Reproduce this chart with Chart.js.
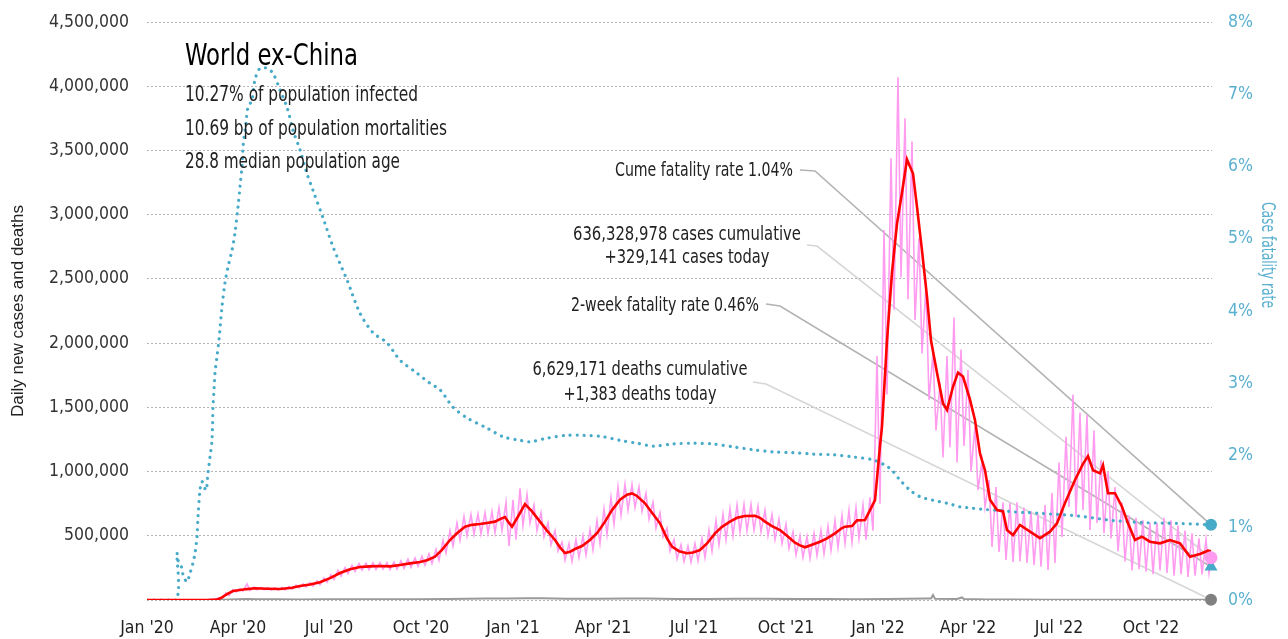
<!DOCTYPE html>
<html><head><meta charset="utf-8">
<script src="https://cdn.jsdelivr.net/npm/chart.js@4.4.1/dist/chart.umd.min.js"></script>
<style>html,body{margin:0;padding:0;background:#fff}#wrap{width:1288px;height:639px;position:relative}</style>
</head><body><div id="wrap"><canvas id="c" width="1288" height="639"></canvas></div>
<script>
// ---------- DATA ----------
const tickDays = [0, 91, 182, 274, 366, 456, 547, 639, 731, 821, 912, 1004];
const tickLabels = ["Jan '20","Apr '20","Jul '20","Oct '20","Jan '21","Apr '21","Jul '21","Oct '21","Jan '22","Apr '22","Jul '22","Oct '22"];
const leftTicks = [0,500000,1000000,1500000,2000000,2500000,3000000,3500000,4000000,4500000];
const rightTicks = [0,1,2,3,4,5,6,7,8];

// 7-day average of daily new cases (day index from 1 Jan 2020)
const avgDays = [0,60,70,75,80,86,93,100,108,120,133,145,153,163,173,183,193,203,213,223,233,243,253,263,273,280,288,295,303,310,318,325,333,340,348,353,358,362,365,371,378,385,393,400,408,413,418,423,428,435,443,450,458,465,473,480,485,490,498,505,513,520,525,532,540,546,553,560,568,575,583,590,598,608,613,618,625,633,640,648,653,658,665,673,680,688,695,698,705,710,718,723,728,733,735,740,745,750,755,760,766,770,775,780,784,790,796,800,806,811,816,823,828,833,838,843,850,856,860,866,873,883,893,903,910,918,928,936,941,946,953,956,961,968,975,981,988,995,1003,1013,1023,1033,1043,1053,1061,1064];
const avgCases = [0,0,3000,20000,45000,70000,78000,85000,91000,88000,86000,95000,109000,120000,138000,170000,210000,240000,257000,262000,265000,262000,272000,285000,296000,310000,337000,390000,467000,520000,571000,585000,592000,600000,610000,630000,646000,600000,571000,650000,747000,690000,610000,540000,467000,410000,366000,375000,397000,420000,467000,520000,610000,700000,780000,820000,830000,810000,753000,680000,597000,480000,415000,380000,364000,370000,389000,440000,519000,570000,610000,640000,654000,656000,640000,610000,575000,545000,500000,446000,425000,410000,430000,454000,480000,519000,560000,571000,576000,620000,623000,700000,778000,1200000,1350000,2020000,2550000,2930000,3170000,3430000,3320000,3060000,2720000,2360000,2020000,1770000,1530000,1480000,1660000,1770000,1740000,1560000,1400000,1140000,1010000,780000,700000,690000,545000,506000,584000,532000,482000,532000,597000,755000,934000,1060000,1120000,1010000,986000,1050000,831000,831000,726000,597000,467000,493000,454000,441000,467000,441000,337000,358000,384000,380000];

// Daily new cases: weekly high and low (week 0 starts 1 Jan 2020)
const dailyWeekHigh = [0,0,0,0,0,0,0,500,1500,4000,18000,55000,80000,88000,125000,100000,98000,96000,96000,98000,104000,116000,126000,135000,150000,172000,198000,230000,252000,270000,283000,287000,290000,292000,290000,295000,305000,318000,328000,340000,360000,395000,465000,540000,600000,650000,665000,670000,680000,690000,720000,760000,780000,870000,820000,740000,680000,600000,540000,450000,440000,470000,500000,550000,620000,710000,800000,880000,900000,900000,880000,830000,760000,680000,560000,470000,430000,420000,440000,480000,545000,620000,670000,710000,740000,745000,745000,730000,700000,665000,630000,590000,530000,500000,495000,520000,545000,575000,620000,660000,700000,720000,740000,800000,1900000,2880000,3440000,4070000,3750000,3570000,2820000,2450000,1920000,1690000,1900000,2200000,1950000,1790000,1350000,1080000,934000,880000,760000,755000,760000,720000,690000,670000,740000,833000,1070000,1270000,1600000,1460000,1440000,1320000,1090000,1000000,880000,760000,660000,640000,620000,600000,600000,640000,620000,580000,540000,520000,480000,470000];
const dailyWeekLow = [0,0,0,0,0,0,0,200,800,2500,8000,35000,62000,70000,75000,80000,80000,78000,78000,78000,84000,94000,100000,108000,118000,138000,160000,185000,205000,222000,232000,236000,238000,240000,236000,240000,246000,255000,262000,270000,285000,310000,365000,420000,465000,500000,510000,515000,520000,525000,540000,420000,470000,580000,600000,540000,490000,430000,380000,310000,300000,330000,350000,390000,440000,510000,590000,660000,700000,720000,690000,630000,560000,490000,380000,320000,300000,295000,305000,330000,380000,430000,470000,500000,530000,540000,545000,530000,500000,470000,440000,400000,350000,330000,325000,345000,360000,385000,410000,440000,450000,480000,470000,540000,750000,1600000,2260000,2510000,2340000,2180000,1920000,1560000,1320000,1110000,1190000,1070000,1200000,1000000,856000,724000,413000,374000,311000,296000,300000,288000,272000,260000,234000,288000,490000,724000,646000,700000,545000,600000,520000,480000,380000,300000,230000,240000,220000,200000,230000,210000,190000,200000,180000,190000,200000,210000];

// Daily deaths
const deathDays = [0,60,75,90,100,110,130,150,180,210,240,270,300,320,340,360,380,395,420,450,480,500,530,560,590,620,650,680,710,740,760,780,784,786,788,810,815,817,840,870,900,930,960,990,1020,1064];
const deathValues = [0,100,2000,6000,7000,6500,5000,4500,5000,6000,5500,5500,7500,10000,11500,12000,14000,13500,10000,9500,12500,12000,8500,8000,10000,9000,7000,7000,6500,7500,10000,11000,11000,38000,10500,8000,20000,7500,4500,3000,2500,2800,2400,1800,1500,1383];

// Cumulative case fatality rate, %
const cfrDays = [0,29,30,31,35,36,40,43,46,48,50,51,53,55,59,61,63,65,66,67,68,70,72,75,78,81,85,88,91,93,95,96,99,101,105,108,113,120,126,133,140,146,153,160,166,176,186,200,213,226,240,253,270,283,293,306,320,340,356,373,383,400,420,436,456,473,490,506,526,546,566,586,606,626,646,666,686,706,726,740,746,753,763,773,786,800,813,826,840,853,866,880,893,933,966,1000,1033,1064];
const cfrValues = [0,0,0.65,0.55,0.44,0.35,0.25,0.37,0.51,0.65,0.87,1.15,1.52,1.64,1.52,1.76,1.98,2.21,2.67,2.91,3.14,3.37,3.6,4.06,4.39,4.61,4.84,5.08,5.44,5.72,6.0,6.27,6.6,6.82,6.92,7.2,7.36,7.36,7.29,7.06,6.82,6.5,6.23,5.9,5.67,5.29,4.89,4.43,3.97,3.7,3.56,3.32,3.14,3.0,2.91,2.67,2.52,2.38,2.26,2.21,2.19,2.24,2.28,2.28,2.26,2.21,2.17,2.13,2.16,2.17,2.16,2.12,2.08,2.05,2.04,2.02,2.01,1.98,1.94,1.85,1.78,1.66,1.52,1.43,1.38,1.34,1.29,1.27,1.25,1.24,1.22,1.21,1.2,1.16,1.1,1.07,1.06,1.04];

const lastDay = 1064;
const cumeFatalityRate = 1.04;
const twoWeekFatalityRate = 0.46;
const casesToday = 329141;
const deathsToday = 1383;
const casesCumulative = "636,328,978";
const deathsCumulative = "6,629,171";

// ---------- FONT PICK ----------
function pickFont(cands){
  const c=document.createElement('canvas').getContext('2d');
  const t='World ex-China 4,500,000';
  c.font='40px monospace'; const b1=c.measureText(t).width;
  c.font='40px serif'; const b2=c.measureText(t).width;
  for(const f of cands){
    c.font='40px "'+f+'", monospace'; const w1=c.measureText(t).width;
    c.font='40px "'+f+'", serif'; const w2=c.measureText(t).width;
    if(Math.abs(w1-b1)>0.5 || Math.abs(w2-b2)>0.5) return f;
  }
  return 'sans-serif';
}
const COND = pickFont(['Liberation Sans Narrow','DejaVu Sans Condensed','Roboto Condensed','Open Sans Condensed','Roboto']);
const PLAIN = pickFont(['Liberation Sans','Arial','DejaVu Sans']);

// ---------- BUILD POINTS ----------
const pts = (xs, ys) => xs.map((x,i)=>({x, y: ys[i]}));
const dailyPts = [];
dailyWeekHigh.forEach((h,w)=>{ dailyPts.push({x:w*7+2, y:h}); dailyPts.push({x:w*7+5, y:dailyWeekLow[w]}); });
dailyPts.push({x:lastDay, y:casesToday});

const TEAL = '#47aac8';
const teal2 = '#5ab0cf';

function drawSqueezed(ctx, str, x, y, size, family, align, color, targetW){
  ctx.save();
  ctx.font = size+'px "'+family+'"';
  const w = ctx.measureText(str).width;
  const sx = targetW ? targetW/w : 1;
  ctx.fillStyle = color; ctx.textBaseline = 'middle'; ctx.textAlign = 'left';
  let left = x;
  const ww = w*sx;
  if(align==='right') left = x - ww; else if(align==='center') left = x - ww/2;
  ctx.translate(left, y); ctx.scale(sx,1);
  ctx.fillText(str, 0, 0);
  ctx.restore();
}

const annot = {
  id:'annot',
  beforeDatasetsDraw(chart){
    const ctx = chart.ctx, xs = chart.scales.x, y = chart.scales.y, y2 = chart.scales.y2;
    const ex = xs.getPixelForValue(lastDay);
    const lines = [
      {pts:[[800,170],[815,171]], to:[ex, y2.getPixelForValue(cumeFatalityRate)], c:'#b3b3b3'},
      {pts:[[807,245],[817,246]], to:[ex, y.getPixelForValue(casesToday)], c:'#d6d6d6'},
      {pts:[[766,304],[780,306]], to:[ex, y2.getPixelForValue(twoWeekFatalityRate)], c:'#b3b3b3'},
      {pts:[[753,382],[766,384]], to:[ex, y.getPixelForValue(deathsToday)], c:'#d6d6d6'}
    ];
    ctx.save(); ctx.lineWidth = 1.6;
    lines.forEach(l=>{
      ctx.strokeStyle = l.c; ctx.beginPath();
      ctx.moveTo(l.pts[0][0], l.pts[0][1]); ctx.lineTo(l.pts[1][0], l.pts[1][1]); ctx.lineTo(l.to[0], l.to[1]);
      ctx.stroke();
    });
    ctx.restore();
  },
  afterDraw(chart){
    const ctx = chart.ctx;
    drawSqueezed(ctx,'World ex-China',185,57,30,COND,'left','#000',173);
    drawSqueezed(ctx,'10.27% of population infected',185,96,21,COND,'left','#222',233);
    drawSqueezed(ctx,'10.69 bp of population mortalities',185,130,21,COND,'left','#222',262);
    drawSqueezed(ctx,'28.8 median population age',185,163,21,COND,'left','#222',215);
    drawSqueezed(ctx,'Cume fatality rate '+cumeFatalityRate.toFixed(2)+'%',793,171,20,COND,'right','#222',178);
    drawSqueezed(ctx,casesCumulative+' cases cumulative',687,235,20,COND,'center','#222',228);
    drawSqueezed(ctx,'+'+casesToday.toLocaleString('en-US')+' cases today',687,258,20,COND,'center','#222',165);
    drawSqueezed(ctx,'2-week fatality rate '+twoWeekFatalityRate.toFixed(2)+'%',759,306,20,COND,'right','#222',188);
    drawSqueezed(ctx,deathsCumulative+' deaths cumulative',640,370,20,COND,'center','#222',215);
    drawSqueezed(ctx,'+'+deathsToday.toLocaleString('en-US')+' deaths today',640,395,20,COND,'center','#222',153);
    // axis titles
    ctx.save(); ctx.translate(18,311); ctx.rotate(-Math.PI/2);
    drawSqueezed(ctx,'Daily new cases and deaths',0,0,17,PLAIN,'center','#222',212);
    ctx.restore();
    ctx.save(); ctx.translate(1267,255); ctx.rotate(Math.PI/2);
    drawSqueezed(ctx,'Case fatality rate',0,0,19,COND,'center',teal2,106);
    ctx.restore();
  }
};

const tickFont = {family: COND, size: 17.5};
const noVPad = s => { s.paddingTop = 0; s.paddingBottom = 0; };

new Chart(document.getElementById('c'), {
  type: 'line',
  data: { datasets: [
    {label:'Cases today', data:[{x:lastDay,y:casesToday}], yAxisID:'y', showLine:false, pointRadius:6.5, pointBackgroundColor:'#ff9cf0', pointBorderWidth:0, clip:false, order:0},
    {label:'Cume CFR', data:[{x:lastDay,y:cumeFatalityRate}], yAxisID:'y2', showLine:false, pointRadius:6, pointBackgroundColor:TEAL, pointBorderWidth:0, clip:false, order:0},
    {label:'2-week CFR', data:[{x:lastDay,y:twoWeekFatalityRate}], yAxisID:'y2', showLine:false, pointStyle:'triangle', pointRadius:7.5, pointBackgroundColor:TEAL, pointBorderWidth:0, clip:false, order:0},
    {label:'Deaths today', data:[{x:lastDay,y:deathsToday}], yAxisID:'y', showLine:false, pointRadius:6, pointBackgroundColor:'#808080', pointBorderWidth:0, clip:false, order:0},
    {label:'7-day avg', data: pts(avgDays, avgCases), yAxisID:'y', borderColor:'#ff0000', borderWidth:2.6, pointRadius:0, tension:0, order:1},
    {label:'CFR', data: pts(cfrDays, cfrValues), yAxisID:'y2', borderColor:TEAL, borderWidth:3.2, borderDash:[0.01,7], borderCapStyle:'round', pointRadius:0, tension:0.3, order:2},
    {label:'Deaths', data: pts(deathDays, deathValues), yAxisID:'y', borderColor:'#9a9a9a', borderWidth:2, pointRadius:0, order:3},
    {label:'Daily cases', data: dailyPts, yAxisID:'y', borderColor:'#ff9cf0', borderWidth:1.6, pointRadius:0, order:4}
  ]},
  options: {
    responsive:false, animation:false, devicePixelRatio:1,
    layout:{padding:{top:22,left:0,right:0,bottom:0}},
    plugins:{legend:{display:false}, tooltip:{enabled:false}},
    scales:{
      x:{type:'linear', min:0, max:1065,
        grid:{display:false}, border:{display:false},
        afterBuildTicks:s=>{ s.ticks = tickDays.map(v=>({value:v})); },
        ticks:{autoSkip:false, maxRotation:0, padding:10, color:'#222', font:tickFont,
          callback:(v)=>{ const i = tickDays.indexOf(v); return i>=0 ? tickLabels[i] : ''; }},
        afterFit:s=>{ s.height = 39; }
      },
      y:{type:'linear', position:'left', min:0, max:4500000,
        afterBuildTicks:s=>{ s.ticks = leftTicks.map(v=>({value:v})); },
        grid:{color:'#b5b5b5', lineWidth:1, drawTicks:false}, border:{display:false, dash:[2,2]},
        ticks:{padding:18, color:'#333', font:tickFont, callback:(v)=> v===0 ? '' : v.toLocaleString('en-US')},
        afterFit:s=>{ s.width = 147; noVPad(s); }
      },
      y2:{type:'linear', position:'right', min:0, max:8,
        afterBuildTicks:s=>{ s.ticks = rightTicks.map(v=>({value:v})); },
        grid:{display:false, drawTicks:false}, border:{display:false},
        ticks:{padding:16, color:teal2, font:tickFont, callback:(v)=> v+'%'},
        afterFit:s=>{ s.width = 76; noVPad(s); }
      }
    }
  },
  plugins:[annot]
});
</script>
</body></html>
